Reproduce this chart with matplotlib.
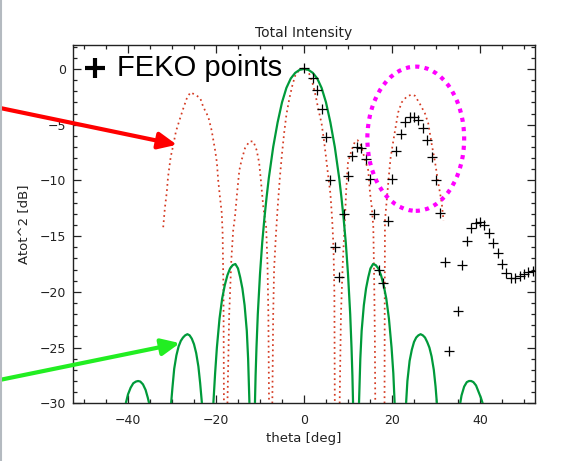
import numpy as np
import matplotlib
matplotlib.use("Agg")
import matplotlib.pyplot as plt
from matplotlib.patches import Ellipse
from matplotlib.lines import Line2D
from matplotlib.ticker import MultipleLocator

# ---------------- data ----------------
# Green solid pattern, lobes separated by NaN
green_theta = [
    -40.5, -40.0, -39.4, -38.8, -38.2, -37.7, -37.2, -36.6, -36.0, -35.5, -35.2, np.nan,
    -30.2, -29.9, -29.5, -29.0, -28.5, -28.0, -27.5, -27.0, -26.5, -26.0, -25.5, -25.0, -24.5, -24.0, -23.6, -23.2, np.nan,
    -20.6, -20.2, -19.8, -19.2, -18.6, -18.0, -17.4, -16.8, -16.2, -15.6, -15.0, -14.5, -14.0, -13.5, -13.0, -12.7, -12.4, np.nan,
    -11.15, -11.0, -10.8, -10.5, -10.0, -9.5, -9.0, -8.5, -8.0, -7.0, -6.0, -5.0, -4.0, -3.0, -2.0, -1.0, 0.0,
    1.0, 2.0, 3.0, 4.0, 5.0, 6.0, 7.0, 8.0, 8.5, 9.0, 9.5, 10.0, 10.5, 10.8, 11.0, 11.15, np.nan,
    12.5, 12.8, 13.1, 13.6, 14.1, 14.6, 15.1, 15.7, 16.3, 16.9, 17.5, 18.1, 18.7, 19.3, 19.9, 20.3, 20.6, np.nan,
    23.2, 23.5, 24.0, 24.5, 25.0, 25.5, 26.0, 26.5, 27.0, 27.5, 28.0, 28.5, 29.0, 29.5, 29.9, 30.2, np.nan,
    35.5, 35.8, 36.4, 37.0, 37.5, 38.0, 38.5, 39.1, 39.7, 40.2, 40.6,
]
green_db = [
    -30.0, -29.2, -28.6, -28.2, -28.05, -28.0, -28.05, -28.3, -28.8, -29.5, -30.0, np.nan,
    -30.0, -28.6, -26.9, -25.7, -24.9, -24.4, -24.1, -23.9, -23.8, -23.9, -24.2, -24.7, -25.5, -26.7, -28.2, -30.0, np.nan,
    -30.0, -27.3, -25.0, -22.4, -20.6, -19.4, -18.5, -17.9, -17.6, -17.5, -17.9, -18.7, -19.7, -21.2, -23.5, -26.0, -30.0, np.nan,
    -30.0, -27.5, -25.0, -22.0, -18.4, -15.6, -13.4, -11.5, -9.8, -7.0, -4.8, -3.0, -1.7, -0.85, -0.35, -0.08, 0.0,
    -0.08, -0.35, -0.85, -1.7, -3.0, -4.8, -7.0, -9.8, -11.5, -13.4, -15.6, -18.4, -22.0, -25.0, -27.5, -30.0, np.nan,
    -30.0, -26.0, -23.5, -21.2, -19.7, -18.7, -17.9, -17.5, -17.6, -17.9, -18.5, -19.4, -20.6, -22.4, -25.0, -27.3, -30.0, np.nan,
    -30.0, -28.0, -26.2, -25.2, -24.5, -24.1, -23.9, -23.8, -23.9, -24.1, -24.5, -25.0, -25.8, -27.0, -28.5, -30.0, np.nan,
    -30.0, -29.3, -28.5, -28.1, -28.0, -28.0, -28.1, -28.4, -29.0, -29.5, -30.0,
]

# Red dotted pattern
red_theta = [
    -32.0, -31.6, -31.2, -30.9, -30.3, -29.8, -29.1, -28.3, -27.4, -26.6, -25.8, -24.8, -23.6, -22.9,
    -21.75, -21.0, -20.2, -19.8, -19.5, -19.1, -18.7, -18.5, -18.3, -18.2, np.nan,
    -17.4, -17.0, -16.5, -16.1, -15.7, -15.2, -14.7, -14.2, -13.4, -12.4, -11.5, -10.75, -10.2, -9.8,
    -9.25, -8.6, -8.3, -8.1, -7.95, np.nan,
    -7.2, -7.0, -6.8, -6.4, -6.0, -5.5, -5.0, -4.5, -4.0, -3.3, -2.6, -2.0, -1.0, -0.2, 0.6, 1.4, 2.1,
    2.7, 3.25, 4.0, 4.5, 5.0, 5.5, 6.0, 6.4, 6.7, 6.9, 7.0, np.nan,
    8.1, 8.4, 8.8, 9.3, 9.6, 10.0, 10.8, 11.6, 12.2, 12.9, 13.9, 14.6, 15.0, 15.4, 15.75, 15.95, 16.1, 16.2, np.nan,
    18.3, 18.35, 18.4, 18.8, 19.4, 19.7, 20.7, 21.4, 22.2, 23.3, 24.4, 25.2, 26.3, 27.5, 28.25, 29.0,
    29.8, 30.5, 31.3, 31.7,
]
red_db = [
    -14.2, -12.4, -11.1, -9.7, -7.9, -7.0, -5.6, -4.6, -3.5, -2.6, -2.1, -2.3, -2.6, -3.4,
    -4.3, -5.5, -7.3, -8.4, -10.0, -11.5, -12.9, -14.7, -20.0, -30.0, np.nan,
    -30.0, -22.0, -17.0, -14.5, -13.3, -11.1, -9.1, -8.2, -7.1, -6.5, -6.5, -7.3, -8.4, -10.0,
    -12.4, -14.2, -17.5, -22.0, -30.0, np.nan,
    -30.0, -22.0, -18.0, -15.0, -12.5, -9.8, -7.6, -5.7, -4.1, -2.6, -1.4, -0.6, -0.05, 0.05, 0.0, -0.6, -1.5,
    -2.5, -3.6, -4.9, -6.3, -7.9, -9.6, -11.2, -13.5, -16.0, -20.0, -30.0, np.nan,
    -30.0, -22.0, -17.5, -13.5, -10.8, -8.4, -7.3, -6.5, -6.4, -6.8, -8.2, -9.1, -11.1, -12.4, -14.2, -19.0, -24.0, -30.0, np.nan,
    -30.0, -20.0, -13.6, -11.8, -9.1, -7.9, -5.5, -3.9, -3.0, -2.5, -2.3, -2.4, -3.1, -4.0, -4.9, -6.7,
    -8.4, -10.2, -12.0, -13.6,
]

# FEKO points
feko_theta = [0, 2, 3, 4, 5, 6, 7, 8, 9, 10, 11, 12, 13, 14, 15, 16, 17, 18, 19, 20,
              21, 22, 23, 24, 25, 26, 27, 28, 29, 30, 31, 32, 33, 35, 36, 37, 38, 39, 40,
              41, 42, 43, 44, 45, 46, 47, 48, 49, 50, 51, 52]
feko_db = [0.1, -0.8, -1.9, -3.6, -6.1, -10.0, -16.0, -18.7, -13.0, -9.6, -7.8, -7.0, -7.1,
           -8.1, -9.9, -13.0, -18.0, -19.2, -13.6, -9.9, -7.4, -5.8, -4.8, -4.3, -4.3, -4.6,
           -5.3, -6.4, -7.9, -10.0, -12.9, -17.3, -25.3, -21.7, -17.6, -15.4, -14.3, -13.8,
           -13.7, -14.0, -14.7, -15.6, -16.5, -17.5, -18.3, -18.8, -18.8, -18.6, -18.4, -18.2, -18.1]

x_ticks = [-40, -20, 0, 20, 40]
y_ticks = [0, -5, -10, -15, -20, -25, -30]

# ---------------- figure ----------------
W, H = 572, 461
fig = plt.figure(figsize=(W / 100, H / 100), dpi=100)
ax = fig.add_axes([73 / W, (H - 403.3) / H, (535 - 73) / W, (403.3 - 45) / H])

ax.plot(red_theta, red_db, color="#d43a22", lw=1.25, linestyle=(0, (1, 2.0)), zorder=2)
ax.plot(green_theta, green_db, color="#009a3a", lw=1.6, zorder=3)
ax.plot(feko_theta, feko_db, linestyle="none", marker="+", color="black",
        markersize=6.5, markeredgewidth=0.9, zorder=4)

ax.set_xlim(-52.5, 52.5)
ax.set_ylim(-30, 2.15)
ax.set_xticks(x_ticks)
ax.set_yticks(y_ticks)
ax.set_xticklabels([str(v).replace("-", "\u2212") for v in x_ticks])
ax.set_yticklabels([str(v).replace("-", "\u2212") for v in y_ticks])
ax.xaxis.set_minor_locator(MultipleLocator(5))
ax.yaxis.set_minor_locator(MultipleLocator(1))
ax.tick_params(which="both", direction="in", top=True, right=True, colors="#222222",
               labelsize=9, width=0.9)
ax.tick_params(which="major", length=6)
ax.tick_params(which="minor", length=3)
ax.tick_params(axis="x", pad=8)
ax.tick_params(axis="y", pad=5)
for s in ax.spines.values():
    s.set_color("#222222")
    s.set_linewidth(1.0)

ax.set_title("Total Intensity", fontsize=10, color="#222222", pad=6)
ax.set_xlabel("theta [deg]", fontsize=9.5, color="#222222", labelpad=3)
ax.set_ylabel("Atot^2 [dB]", fontsize=9.5, color="#222222", labelpad=7)

# legend-like annotation
ax.plot([-47.5], [0.1], marker="+", color="black", markersize=15, markeredgewidth=3,
        clip_on=False, zorder=5)
ax.text(-42.4, 0.1, "FEKO points", fontsize=21, family="Liberation Sans",
        va="center", ha="left", color="black", zorder=5)

# magenta dotted ellipse
ell = Ellipse((25.4, -6.26), 22.0, 12.94, fill=False, edgecolor="#ff00ff", lw=3,
              linestyle=(0, (1, 1.25)), zorder=5)
ell.set_capstyle("butt")
ax.add_patch(ell)

# arrows from outside the axes
ax.annotate("", xy=(-28.9, -6.8), xytext=(-69.1, -3.5),
            arrowprops=dict(arrowstyle="-|>,head_length=1.1,head_width=0.5", color="#ff0000",
                            lw=3, mutation_scale=10, shrinkA=0, shrinkB=0),
            annotation_clip=False)
ax.annotate("", xy=(-28.2, -24.6), xytext=(-69.1, -27.9),
            arrowprops=dict(arrowstyle="-|>,head_length=1.1,head_width=0.5", color="#22ee22",
                            lw=3, mutation_scale=10, shrinkA=0, shrinkB=0),
            annotation_clip=False)

# gray border line at the left edge of the picture
fig.add_artist(Line2D([1.0 / W, 1.0 / W], [0, 1], transform=fig.transFigure,
                      color="#b4bac0", lw=1.5))

fig.savefig("out.png", dpi=100)
